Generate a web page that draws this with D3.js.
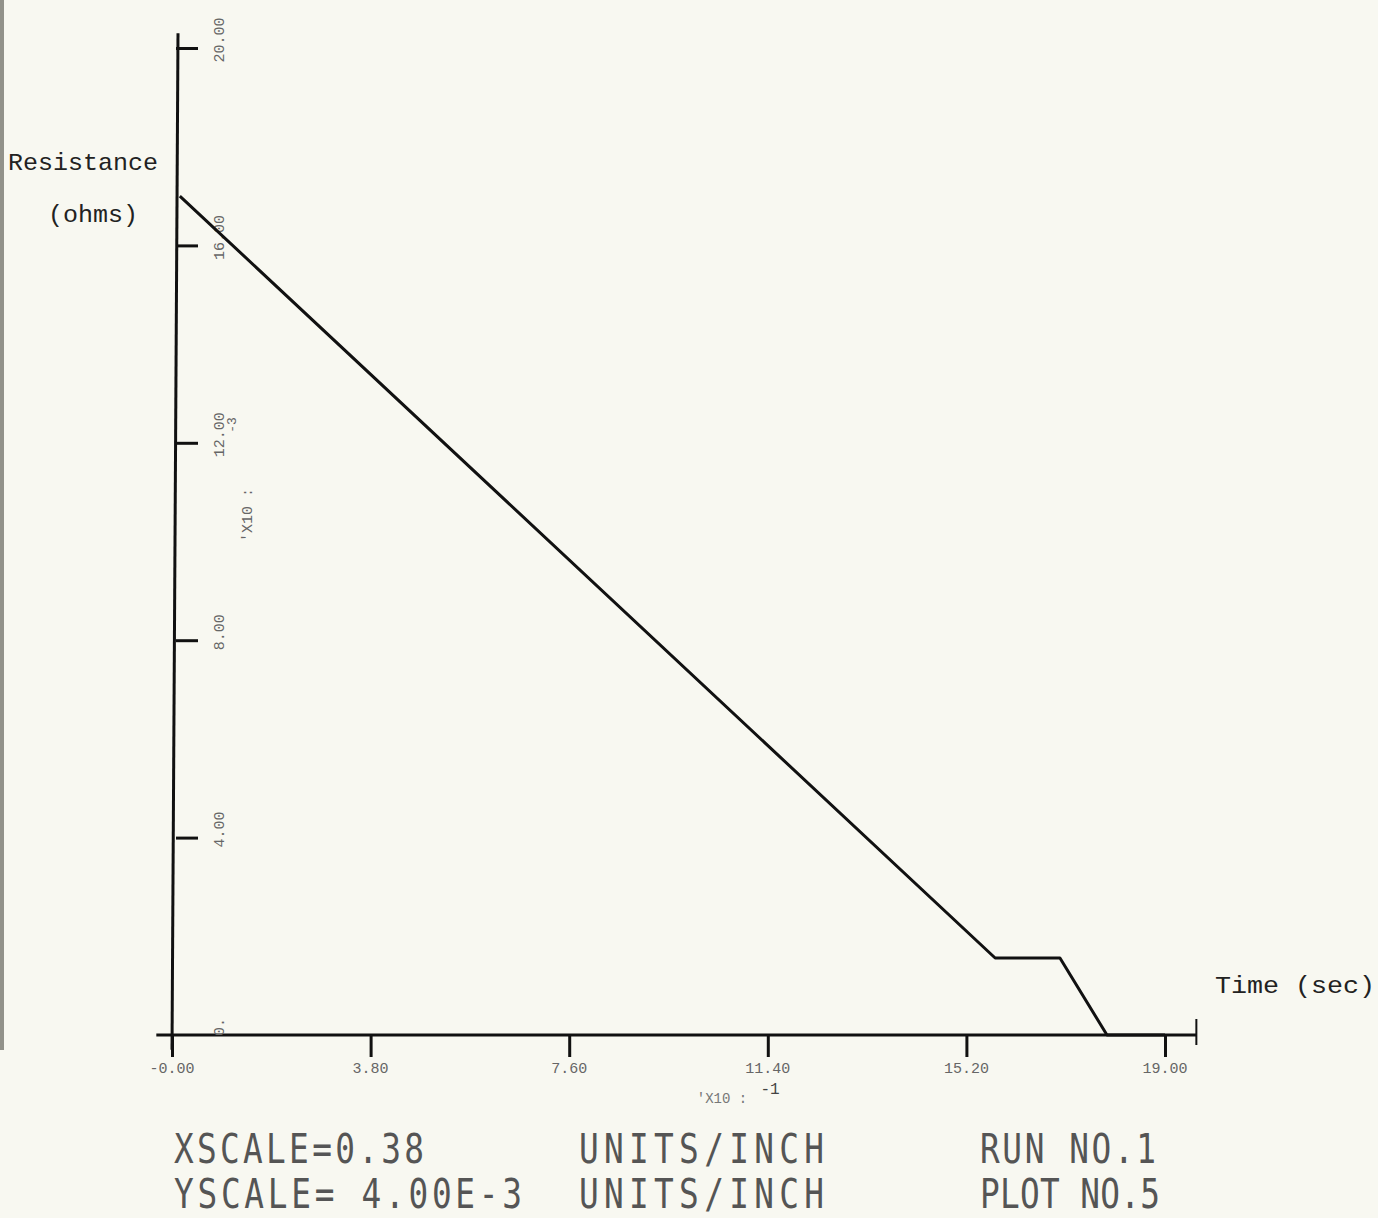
<!DOCTYPE html>
<html>
<head>
<meta charset="utf-8">
<script src="https://cdn.jsdelivr.net/npm/d3@7"></script>
<style>
  body { margin: 0; background: #f8f8f1; }
  svg { display: block; }
</style>
</head>
<body>
<div id="chart"></div>
<script>
// values (time in sec, resistance in ohms)
var timeVals = [0.015, 1.575, 1.699, 1.789, 1.90];
var resVals = [0.0170, 0.00156, 0.00156, 0, 0];

var xTicks = [0, 0.38, 0.76, 1.14, 1.52, 1.90];
var xTickLabels = ["-0.00", "3.80", "7.60", "11.40", "15.20", "19.00"];
var yTicks = [0, 0.004, 0.008, 0.012, 0.016, 0.020];
var yTickLabels = ["0.", "4.00", "8.00", "12.00", "16.00", "20.00"];

var W = 1378, H = 1218;

var svg = d3.select("#chart").append("svg")
  .attr("width", W)
  .attr("height", H);

// scan edge on the left
svg.append("rect").attr("x", 0).attr("y", 0).attr("width", 4).attr("height", 1050)
  .attr("fill", "#92928a");

var x = d3.scaleLinear().domain([0, 1.9]).range([172, 1165]);
var y = d3.scaleLinear().domain([0, 0.020]).range([1035, 48]);

var ink = "#111";

// x axis
var xAxis = d3.axisBottom(x).tickValues(xTicks).tickSize(22).tickSizeOuter(0).tickFormat("");
var gx = svg.append("g").attr("transform", `translate(0, ${y(0)})`).call(xAxis);
gx.select(".domain").remove();
gx.selectAll(".tick line").attr("stroke", ink).attr("stroke-width", 3);
svg.append("line")
  .attr("x1", x(-0.03)).attr("x2", x(1.96))
  .attr("y1", y(0)).attr("y2", y(0))
  .attr("stroke", ink).attr("stroke-width", 3);
// end mark of the x axis
svg.append("line")
  .attr("x1", x(1.96)).attr("x2", x(1.96))
  .attr("y1", y(0) - 16).attr("y2", y(0) + 10)
  .attr("stroke", ink).attr("stroke-width", 2);

// y axis
var yAxis = d3.axisRight(y).tickValues(yTicks.slice(1)).tickSize(22).tickSizeOuter(0).tickFormat("");
var gy = svg.append("g").attr("transform", `translate(${x(0) + 4}, 0)`).call(yAxis);
gy.select(".domain").remove();
gy.selectAll(".tick line").attr("stroke", ink).attr("stroke-width", 3);
svg.append("line")
  .attr("x1", x(0)).attr("x2", x(0) + 6)
  .attr("y1", y(-0.0003)).attr("y2", y(0.0203))
  .attr("stroke", ink).attr("stroke-width", 3);

// tick labels (faint plotter text)
svg.append("g").selectAll("text")
  .data(xTicks)
  .enter().append("text")
  .attr("x", d => x(d))
  .attr("y", y(0) + 38)
  .attr("text-anchor", "middle")
  .attr("font-family", "Liberation Mono")
  .attr("font-size", 15)
  .attr("fill", "#666")
  .text((d, i) => xTickLabels[i]);

svg.append("g").selectAll("text")
  .data(yTicks)
  .enter().append("text")
  .attr("transform", d => `translate(${x(0) + 52}, ${y(d) - 8}) rotate(-90)`)
  .attr("text-anchor", "middle")
  .attr("font-family", "Liberation Mono")
  .attr("font-size", 15)
  .attr("fill", "#666")
  .text((d, i) => yTickLabels[i]);

// multiplier labels
svg.append("text")
  .attr("transform", `translate(${x(0) + 80}, 515) rotate(-90)`)
  .attr("text-anchor", "middle")
  .attr("font-family", "Liberation Mono").attr("font-size", 15).attr("fill", "#666")
  .text("'X10 :");
svg.append("text")
  .attr("transform", `translate(${x(0) + 64}, 425) rotate(-90)`)
  .attr("text-anchor", "middle")
  .attr("font-family", "Liberation Mono").attr("font-size", 13).attr("fill", "#666")
  .text("-3");
svg.append("text")
  .attr("x", 722).attr("y", 1103)
  .attr("text-anchor", "middle")
  .attr("font-family", "Liberation Mono").attr("font-size", 14).attr("fill", "#777")
  .text("'X10 :");
svg.append("text")
  .attr("x", 770).attr("y", 1094)
  .attr("text-anchor", "middle")
  .attr("font-family", "Liberation Mono").attr("font-size", 16).attr("fill", "#444")
  .text("-1");

// data line
var line = d3.line()
  .x((d, i) => x(timeVals[i]))
  .y(d => y(d));
svg.append("path")
  .datum(resVals)
  .attr("d", line)
  .attr("fill", "none")
  .attr("stroke", ink)
  .attr("stroke-width", 3)
  .attr("stroke-linejoin", "round");

// typed axis titles
var type = "Liberation Mono";
svg.append("text").attr("x", 8).attr("y", 170)
  .attr("font-family", type).attr("font-size", 24).attr("fill", "#222")
  .attr("textLength", 150).attr("lengthAdjust", "spacingAndGlyphs")
  .text("Resistance");
svg.append("text").attr("x", 48).attr("y", 222)
  .attr("font-family", type).attr("font-size", 24).attr("fill", "#222")
  .attr("textLength", 90).attr("lengthAdjust", "spacingAndGlyphs")
  .text("(ohms)");
svg.append("text").attr("x", 1215).attr("y", 993)
  .attr("font-family", type).attr("font-size", 24).attr("fill", "#222")
  .attr("textLength", 160).attr("lengthAdjust", "spacingAndGlyphs")
  .text("Time (sec)");

// plotter footer: tall narrow glyphs on a fixed pitch
var squeeze = 0.82;
var footer = [
  { t: "XSCALE=0.38", x: 174, y: 1163, w: 250 },
  { t: "UNITS/INCH", x: 579, y: 1163, w: 245 },
  { t: "RUN NO.1", x: 980, y: 1163, w: 176 },
  { t: "YSCALE= 4.00E-3", x: 174, y: 1208, w: 348 },
  { t: "UNITS/INCH", x: 579, y: 1208, w: 245 },
  { t: "PLOT NO.5", x: 980, y: 1208, w: 180 }
];
svg.append("g").selectAll("text")
  .data(footer)
  .enter().append("text")
  .attr("transform", d => `translate(${d.x}, ${d.y}) scale(${squeeze}, 1)`)
  .attr("font-family", "DejaVu Sans Mono")
  .attr("font-size", 40)
  .attr("fill", "#555")
  .attr("textLength", d => d.w / squeeze)
  .attr("lengthAdjust", "spacing")
  .text(d => d.t);
</script>
</body>
</html>
